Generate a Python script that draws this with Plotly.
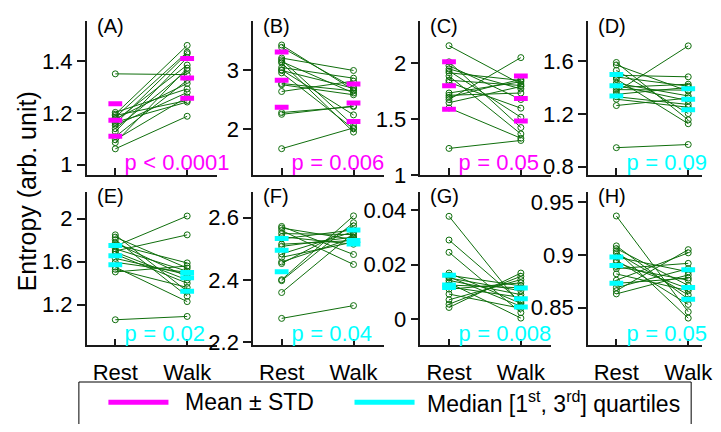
import plotly.graph_objects as go

# ---------------- data ----------------
categories = ["Rest", "Walk"]
panel_labels = ["(A)", "(B)", "(C)", "(D)", "(E)", "(F)", "(G)", "(H)"]

rest_A = [1.351, 1.202, 1.195, 1.19, 1.183, 1.177, 1.17, 1.164, 1.158, 1.152, 1.139, 1.127, 1.108, 1.096, 1.085, 1.061]
walk_A = [1.348, 1.293, 1.461, 1.248, 1.435, 1.314, 1.385, 1.242, 1.429, 1.279, 1.364, 1.414, 1.326, 1.261, 1.373, 1.187]
rest_B = [3.42, 3.38, 3.20, 3.17, 3.14, 3.12, 3.04, 3.0, 2.99, 2.95, 2.77, 2.75, 2.635, 2.28, 2.25, 1.67]
walk_B = [2.66, 2.70, 2.99, 2.06, 2.61, 1.95, 2.86, 2.24, 2.69, 2.005, 2.645, 2.58, 2.81, 2.38, 2.39, 2.02]
rest_C = [2.155, 2.011, 1.977, 1.948, 1.93, 1.914, 1.885, 1.847, 1.828, 1.733, 1.713, 1.695, 1.675, 1.647, 1.60, 1.239]
walk_C = [1.813, 1.425, 1.675, 1.77, 1.517, 1.845, 1.368, 1.80, 1.598, 1.833, 1.733, 1.856, 2.049, 1.791, 1.33, 1.31]
rest_D = [1.59, 1.571, 1.53, 1.493, 1.48, 1.464, 1.433, 1.416, 1.40, 1.384, 1.367, 1.348, 1.33, 1.311, 1.263, 0.943]
walk_D = [1.154, 1.372, 1.202, 1.481, 1.41, 1.125, 1.336, 1.30, 1.425, 1.38, 1.716, 1.401, 1.271, 1.25, 1.32, 0.967]
rest_E = [1.85, 1.829, 1.805, 1.775, 1.76, 1.745, 1.72, 1.70, 1.69, 1.67, 1.631, 1.595, 1.55, 1.53, 1.505, 1.06]
walk_E = [1.325, 1.541, 1.28, 1.46, 1.589, 2.025, 1.512, 1.85, 1.43, 1.40, 1.481, 1.50, 1.229, 1.361, 1.56, 1.091]
rest_F = [2.572, 2.567, 2.559, 2.549, 2.539, 2.532, 2.515, 2.508, 2.484, 2.473, 2.458, 2.453, 2.401, 2.398, 2.36, 2.277]
walk_F = [2.482, 2.53, 2.45, 2.546, 2.515, 2.561, 2.527, 2.538, 2.555, 2.522, 2.535, 2.574, 2.606, 2.584, 2.551, 2.318]
rest_G = [0.0377, 0.029, 0.0245, 0.0169, 0.0161, 0.0155, 0.0151, 0.0142, 0.0133, 0.0125, 0.0118, 0.011, 0.0092, 0.0071, 0.0055, 0.0043]
walk_G = [0.0051, 0.0063, 0.0024, 0.0058, 0.0122, 0.0047, 0.0104, 0.009, 0.0004, 0.0115, 0.008, 0.0133, 0.004, 0.0145, 0.0157, 0.0169]
rest_H = [0.937, 0.9086, 0.906, 0.904, 0.902, 0.898, 0.895, 0.893, 0.889, 0.887, 0.882, 0.876, 0.873, 0.869, 0.866, 0.863]
walk_H = [0.846, 0.858, 0.871, 0.84, 0.862, 0.884, 0.853, 0.868, 0.876, 0.892, 0.866, 0.902, 0.878, 0.887, 0.905, 0.881]

# summary bars: (lower, centre, upper)
stats_rest_A = [1.11, 1.172, 1.235]
stats_walk_A = [1.257, 1.335, 1.41]
stats_rest_B = [2.37, 2.825, 3.30]
stats_walk_B = [2.13, 2.44, 2.76]
stats_rest_C = [1.589, 1.799, 2.011]
stats_walk_C = [1.483, 1.684, 1.885]
stats_rest_D = [1.336, 1.413, 1.498]
stats_walk_D = [1.231, 1.311, 1.391]
stats_rest_E = [1.571, 1.656, 1.751]
stats_walk_E = [1.325, 1.451, 1.499]
stats_rest_F = [2.427, 2.496, 2.533]
stats_walk_F = [2.516, 2.527, 2.561]
stats_rest_G = [0.0116, 0.0125, 0.0161]
stats_walk_G = [0.0045, 0.0075, 0.0114]
stats_rest_H = [0.873, 0.890, 0.898]
stats_walk_H = [0.858, 0.869, 0.886]

p_texts = ["p &lt; 0.0001", "p = 0.006", "p = 0.05", "p = 0.09",
           "p = 0.02", "p = 0.04", "p = 0.008", "p = 0.05"]
stat_kind = ["mean", "mean", "mean", "median", "median", "median", "median", "median"]

yticks_A = [1, 1.2, 1.4]
yticks_B = [2, 3]
yticks_C = [1, 1.5, 2]
yticks_D = [0.8, 1.2, 1.6]
yticks_E = [1.2, 1.6, 2]
yticks_F = [2.2, 2.4, 2.6]
yticks_G = [0, 0.02, 0.04]
yticks_H = [0.85, 0.9, 0.95]

legend_labels = ["Mean \u00b1 STD", "Median [1<sup>st</sup>, 3<sup>rd</sup>] quartiles"]

rests = [rest_A, rest_B, rest_C, rest_D, rest_E, rest_F, rest_G, rest_H]
walks = [walk_A, walk_B, walk_C, walk_D, walk_E, walk_F, walk_G, walk_H]
srest = [stats_rest_A, stats_rest_B, stats_rest_C, stats_rest_D, stats_rest_E, stats_rest_F, stats_rest_G, stats_rest_H]
swalk = [stats_walk_A, stats_walk_B, stats_walk_C, stats_walk_D, stats_walk_E, stats_walk_F, stats_walk_G, stats_walk_H]
yticks = [yticks_A, yticks_B, yticks_C, yticks_D, yticks_E, yticks_F, yticks_G, yticks_H]

# ---------------- layout geometry ----------------
# the page keeps the browser's default 8px body margin, so the figure is
# sized to fill the 721x432 window exactly together with that margin
OFF = 8
W, H = 721 - 2 * OFF, 432 - 2 * OFF


def px(v):
    return v - OFF


GREEN = "#0f6e0c"
MAGENTA = "#ff00ff"
CYAN = "#00ffff"
AXC = "#1a1a1a"
FONT = "Liberation Sans, Arial, sans-serif"
TICK_SIZE = 22

xdom_px = [(88, 220), (257, 390), (427, 560), (597, 721)]
ydom_px = [(20, 180), (197, 356)]
yranges = [[0.959, 1.557], [1.222, 3.832], [1.0, 2.379], [0.734, 1.908],
           [0.8225, 2.252], [2.1907, 2.6837], [-0.00956, 0.04673], [0.8142, 0.9601]]
PX_PER_UNIT = 73.0
LEFT_PAD = 29.0
HW = 0.096

fig = go.Figure()
layout = dict(width=W, height=H, margin=dict(l=0, r=0, t=0, b=0),
              paper_bgcolor="white", plot_bgcolor="white",
              showlegend=False, font=dict(family=FONT, color="black", size=TICK_SIZE))
annotations = []
shapes = []

for i in range(8):
    row, col = divmod(i, 4)
    n = i + 1
    xa = "x" if n == 1 else f"x{n}"
    ya = "y" if n == 1 else f"y{n}"
    x0p, x1p = px(xdom_px[col][0]), min(px(xdom_px[col][1]), W)
    y0p, y1p = px(ydom_px[row][0]), px(ydom_px[row][1])
    xr0 = 1 - LEFT_PAD / PX_PER_UNIT
    xr1 = xr0 + (x1p - x0p) / PX_PER_UNIT

    xs, ys = [], []
    for r, w in zip(rests[i], walks[i]):
        xs += [1, 2, None]
        ys += [r, w, None]
    fig.add_trace(go.Scatter(x=xs, y=ys, xaxis=xa, yaxis=ya, mode="lines+markers",
                             line=dict(color=GREEN, width=1),
                             marker=dict(symbol="circle-open", size=6, color=GREEN,
                                         line=dict(width=1, color=GREEN)),
                             hoverinfo="skip", cliponaxis=False))
    bx, by = [], []
    for xc, vals in ((1, srest[i]), (2, swalk[i])):
        for v in vals:
            bx += [xc - HW, xc + HW, None]
            by += [v, v, None]
    col_bar = MAGENTA if stat_kind[i] == "mean" else CYAN
    fig.add_trace(go.Scatter(x=bx, y=by, xaxis=xa, yaxis=ya, mode="lines",
                             line=dict(color=col_bar, width=5), hoverinfo="skip",
                             cliponaxis=False))

    xkey = "xaxis" if n == 1 else f"xaxis{n}"
    ykey = "yaxis" if n == 1 else f"yaxis{n}"
    layout[xkey] = dict(domain=[x0p / W, x1p / W], range=[xr0, xr1], anchor=ya,
                        showgrid=False, zeroline=False, showline=True,
                        linecolor=AXC, linewidth=1.5,
                        tickvals=[1, 2], ticktext=categories,
                        showticklabels=(row == 1),
                        ticks="inside", ticklen=7, tickwidth=1.5, tickcolor=AXC,
                        ticklabelstandoff=7, ticklabeloverflow="allow",
                        tickfont=dict(size=TICK_SIZE, family=FONT, color="black"))
    layout[ykey] = dict(domain=[1 - y1p / H, 1 - y0p / H], range=yranges[i], anchor=xa,
                        showgrid=False, zeroline=False, showline=True,
                        linecolor=AXC, linewidth=1.5,
                        tickvals=yticks[i], ticks="outside", ticklen=8,
                        tickwidth=1.5, tickcolor=AXC, ticklabeloverflow="allow",
                        tickfont=dict(size=TICK_SIZE, family=FONT, color="black"))

    # panel label
    lab_center = px(26 if row == 0 else 202)
    annotations.append(dict(text=panel_labels[i], xref=f"{xa} domain", yref=f"{ya} domain",
                            x=8 / (x1p - x0p), y=1 - (lab_center - y0p) / (y1p - y0p),
                            xanchor="left", yanchor="middle", showarrow=False,
                            font=dict(size=20, family=FONT, color="black")))
    # p value
    pcol = MAGENTA if stat_kind[i] == "mean" else CYAN
    ptxt = '<span style="font-family:Liberation Mono">p</span>' + p_texts[i][1:]
    pc = px(168 if row == 0 else 345)
    annotations.append(dict(text=ptxt, xref=xa, yref=f"{ya} domain",
                            x=1.1, y=(y1p - pc) / (y1p - y0p),
                            xanchor="left", yanchor="middle", showarrow=False,
                            font=dict(size=22, family=FONT, color=pcol)))

# y-axis title
annotations.append(dict(text="Entropy (arb. unit)", xref="paper", yref="paper",
                        x=px(27) / W, y=1 - px(197) / H, textangle=-90, showarrow=False,
                        xanchor="center", yanchor="middle",
                        font=dict(size=25, family=FONT, color="black")))

# legend box
shapes.append(dict(type="rect", xref="paper", yref="paper",
                   x0=px(80) / W, x1=px(702) / W, y0=-0.1, y1=1 - px(394) / H,
                   line=dict(color="black", width=1), fillcolor="white", layer="below"))
leg_y = 1 - px(415) / H
for (lx0, lx1, tx), colr, lab in zip([(110, 171, 186), (360, 421, 432)],
                                     [MAGENTA, CYAN], legend_labels):
    shapes.append(dict(type="line", xref="paper", yref="paper",
                       x0=px(lx0) / W, x1=px(lx1) / W, y0=leg_y, y1=leg_y,
                       line=dict(color=colr, width=5)))
    annotations.append(dict(text=lab, xref="paper", yref="paper", x=px(tx) / W, y=leg_y,
                            xanchor="left", yanchor="middle", showarrow=False,
                            font=dict(size=23, family=FONT, color="black")))

layout["annotations"] = annotations
layout["shapes"] = shapes
fig.update_layout(**layout)
fig.write_html("out.html", config={"displayModeBar": False})
